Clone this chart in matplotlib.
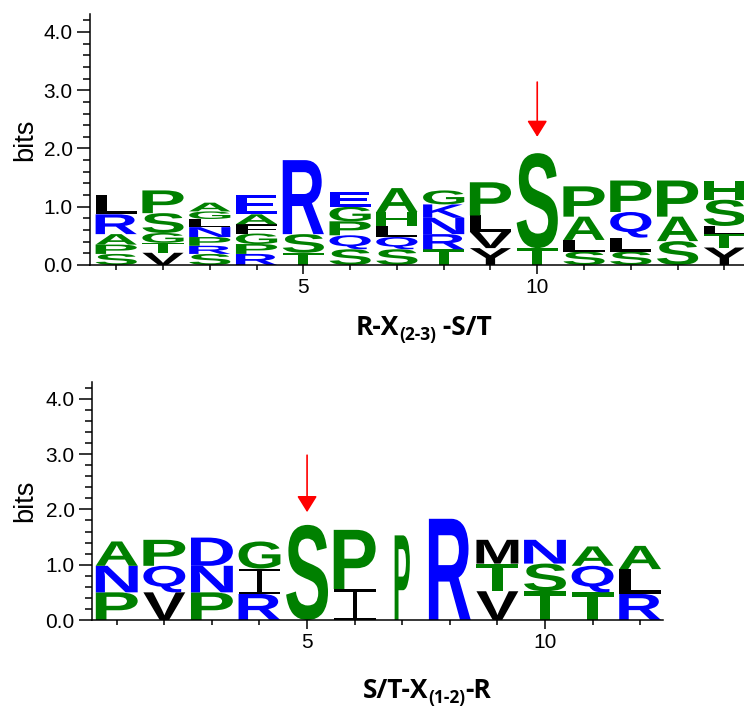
import matplotlib
matplotlib.use('Agg')
import matplotlib.pyplot as plt
from matplotlib.textpath import TextPath
from matplotlib.patches import PathPatch
from matplotlib.font_manager import FontProperties
from matplotlib.transforms import Affine2D, IdentityTransform
from matplotlib.path import Path
from matplotlib.ticker import MultipleLocator, FixedLocator, FormatStrFormatter

# upper logo: letters of each position listed bottom -> top, heights in bits
top_letters = ['SPARL', 'VTGSP', 'SRPNLGA', 'RPGFAE', 'TSR', 'SQPGE', 'SQLHA',
               'TRNKG', 'YVLP', 'TS', 'SLAP', 'SLQP', 'SAP', 'YTLSH']
top_heights = [
    [0.19, 0.16, 0.18, 0.34, 0.34],
    [0.21, 0.17, 0.17, 0.34, 0.39],
    [0.19, 0.14, 0.15, 0.17, 0.14, 0.13, 0.15],
    [0.19, 0.17, 0.18, 0.16, 0.17, 0.33],
    [0.21, 0.32, 1.27],
    [0.27, 0.24, 0.24, 0.25, 0.25],
    [0.27, 0.21, 0.19, 0.24, 0.41],
    [0.27, 0.26, 0.28, 0.23, 0.24],
    [0.29, 0.28, 0.28, 0.57],
    [0.29, 1.63],
    [0.23, 0.20, 0.40, 0.52],
    [0.23, 0.24, 0.44, 0.54],
    [0.41, 0.42, 0.62],
    [0.30, 0.23, 0.14, 0.45, 0.33],
]
top_site = 10
top_label = ('R-X', '(2-3)', ' -S/T')

# lower logo
bot_letters = ['PNA', 'VQP', 'PND', 'RIG', 'S', 'IP', 'P', 'R', 'VTM', 'TSN', 'TQA', 'RLA']
bot_heights = [
    [0.50, 0.48, 0.44],
    [0.50, 0.48, 0.47],
    [0.50, 0.48, 0.51],
    [0.47, 0.46, 0.49],
    [1.72],
    [0.56, 1.07],
    [1.53],
    [1.83],
    [0.52, 0.50, 0.43],
    [0.52, 0.50, 0.43],
    [0.50, 0.48, 0.35],
    [0.47, 0.45, 0.42],
]
bot_site = 5
bot_label = ('S/T-X', '(1-2)', '-R')

green, blue, black = '#008000', '#0000ff', '#000000'
letter_color = {}
for c in 'AGHPST':
    letter_color[c] = green
for c in 'DEKNQR':
    letter_color[c] = blue
for c in 'FILMVY':
    letter_color[c] = black

letter_font = FontProperties(family='Liberation Sans', weight='bold')
tick_font = 'Liberation Sans'

# "I" is drawn with thin bars, like in the original logo
i_path = Path.make_compound_path(
    Affine2D().scale(1, 0.08).transform_path(Path.unit_rectangle()),
    Affine2D().scale(1, 0.08).translate(0, 0.92).transform_path(Path.unit_rectangle()),
    Affine2D().scale(0.1, 1).translate(0.45, 0).transform_path(Path.unit_rectangle()),
)


def draw_letter(ax, ch, x, y0, w, h):
    path = i_path if ch == 'I' else TextPath((0, 0), ch, size=1, prop=letter_font)
    ext = path.get_extents()
    tr = (Affine2D().translate(-ext.x0, -ext.y0)
          .scale(w / ext.width, h / ext.height)
          .translate(x - w / 2, y0))
    ax.add_patch(PathPatch(tr.transform_path(path), facecolor=letter_color[ch],
                           edgecolor='none', lw=0))


def draw_logo(ax, letters, heights, widths=None):
    for i, (col, hs) in enumerate(zip(letters, heights)):
        pos = i + 1
        w = 0.88 if widths is None else widths.get(pos, 0.88)
        y = 0.0
        for ch, h in zip(col, hs):
            draw_letter(ax, ch, pos, y, w, h)
            y += h


def style_axes(ax, n):
    for s in ('top', 'right'):
        ax.spines[s].set_visible(False)
    for s in ('left', 'bottom'):
        ax.spines[s].set_linewidth(1.1)
    ax.set_ylim(0, 4.3)
    ax.yaxis.set_major_locator(MultipleLocator(1))
    ax.yaxis.set_minor_locator(MultipleLocator(0.2))
    ax.yaxis.set_major_formatter(FormatStrFormatter('%.1f'))
    ax.xaxis.set_major_locator(FixedLocator([5, 10]))
    ax.xaxis.set_minor_locator(FixedLocator(list(range(1, n + 1))))
    ax.tick_params(axis='y', which='major', length=9.4, width=1.1, pad=3, labelsize=15)
    ax.tick_params(axis='y', which='minor', length=5, width=1.1)
    ax.tick_params(axis='x', which='major', length=6.5, width=1.1, pad=3, labelsize=15)
    ax.tick_params(axis='x', which='minor', length=3.6, width=1.1)
    for lab in ax.get_xticklabels() + ax.get_yticklabels():
        lab.set_fontfamily(tick_font)


def add_arrow(ax, x, y_from, y_to):
    ax.annotate('', xy=(x, y_to), xytext=(x, y_from),
                arrowprops=dict(arrowstyle='-|>,head_length=0.45,head_width=0.28',
                                color='red', lw=1.2, mutation_scale=22,
                                shrinkA=0, shrinkB=0))


def xlabel_with_sub(fig, cx, base, parts, size):
    r = fig.canvas.get_renderer()
    H = fig.get_figheight() * fig.dpi
    specs = [(parts[0], size, 0), (parts[1], size * 0.66, -5), (parts[2], size, 0)]
    texts = []
    for s, fs, dy in specs:
        t = fig.text(0, 0, s, fontsize=fs, fontweight='bold', family='Open Sans',
                     ha='left', va='baseline', transform=IdentityTransform())
        texts.append((t, dy))
    widths = [t.get_window_extent(r).width for t, _ in texts]
    x = cx - sum(widths) / 2
    for (t, dy), w in zip(texts, widths):
        t.set_position((x, H - base + dy))
        x += w


fig = plt.figure(figsize=(7.44, 7.08), dpi=100)
W, H = 744, 708

ax1 = fig.add_axes([90 / W, 1 - 265 / H, (W - 90) / W, 250.5 / H])
ax1.set_xlim(0.44, 14.42)
style_axes(ax1, len(top_letters))
draw_logo(ax1, top_letters, top_heights)
add_arrow(ax1, top_site, 3.14, 2.2)

ax2 = fig.add_axes([92 / W, 1 - 620 / H, 571 / W, 237.8 / H])
ax2.set_xlim(0.48, 12.48)
style_axes(ax2, len(bot_letters))
draw_logo(ax2, bot_letters, bot_heights, widths={7: 0.32})
add_arrow(ax2, bot_site, 2.98, 1.95)

fig.text(25 / W, 1 - 140 / H, 'bits', rotation=90, ha='center', va='center',
         fontsize=19.5, family=tick_font)
fig.text(25 / W, 1 - 501 / H, 'bits', rotation=90, ha='center', va='center',
         fontsize=19.5, family=tick_font)

xlabel_with_sub(fig, 424, 335, top_label, 19)
xlabel_with_sub(fig, 427, 698, bot_label, 19)

fig.savefig('out.png', dpi=100)
